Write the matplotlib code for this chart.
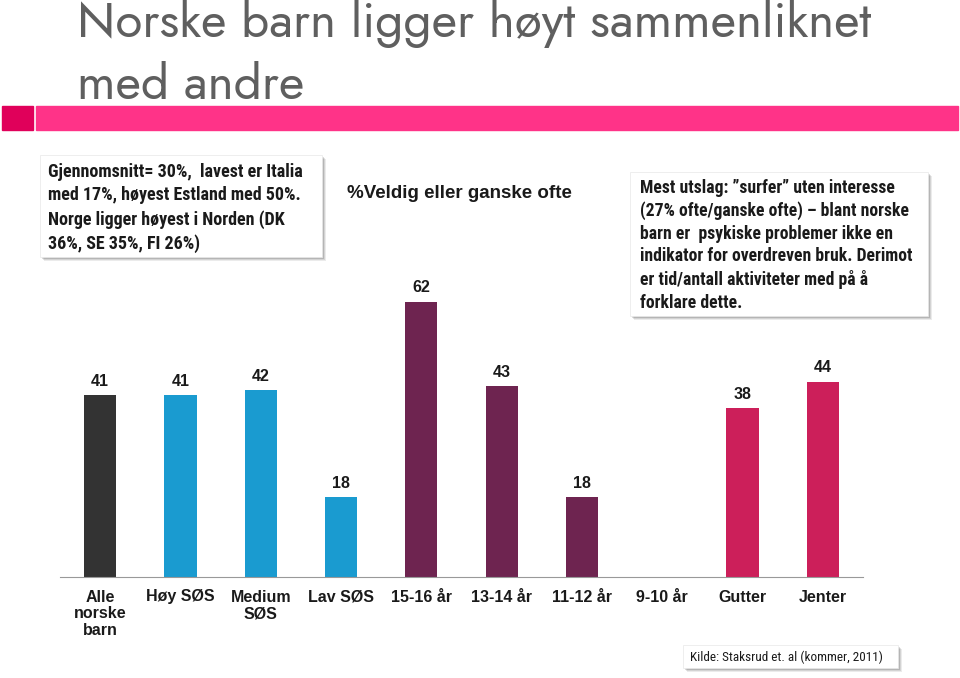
import matplotlib.pyplot as plt
from matplotlib.patches import Rectangle

categories = ['Alle\nnorske\nbarn', 'Høy SØS', 'Medium\nSØS', 'Lav SØS', '15-16 år',
              '13-14 år', '11-12 år', '9-10 år', 'Gutter', 'Jenter']
values = [41, 41, 42, 18, 62, 43, 18, None, 38, 44]
colors = ['#333333', '#1a9bd0', '#1a9bd0', '#1a9bd0', '#6e2450',
          '#6e2450', '#6e2450', '#6e2450', '#cc1f5a', '#cc1f5a']

title = 'Norske barn ligger høyt sammenliknet\nmed andre'
note_left = ('Gjennomsnitt= 30%,  lavest er Italia\nmed 17%, høyest Estland med 50%.\n'
             'Norge ligger høyest i Norden (DK\n36%, SE 35%, FI 26%)')
note_mid = '%Veldig eller ganske ofte'
note_right = ('Mest utslag: ”surfer” uten interesse\n(27% ofte/ganske ofte) – blant norske\n'
              'barn er  psykiske problemer ikke en\nindikator for overdreven bruk. Derimot\n'
              'er tid/antall aktiviteter med på å\nforklare dette.')
source = 'Kilde: Staksrud et. al (kommer, 2011)'

W, H = 960, 678
fig = plt.figure(figsize=(9.6, 6.78), dpi=100)
narrow = ['Roboto Condensed', 'DejaVu Sans']


def fx(x):
    return x / W


def fy(y):
    return 1 - y / H


# title and pink band
fig.text(fx(77), fy(-1), title, ha='left', va='top', fontsize=35.5, color='#5f5f5f',
         family=['Jost', 'DejaVu Sans'], linespacing=1.33)
fig.patches.append(Rectangle((fx(2), fy(130)), fx(31), 24 / H, color='#e0005a',
                             transform=fig.transFigure))
fig.patches.append(Rectangle((fx(36), fy(130)), fx(922), 24 / H, color='#ff3388',
                             transform=fig.transFigure))


def box(x0, y0, x1, y1):
    for d, a in [(4, 0.08), (3, 0.1), (2, 0.14)]:
        fig.patches.append(Rectangle((fx(x0 + d), fy(y1 + d)), fx(x1 - x0), (y1 - y0) / H,
                                     color='black', alpha=a, transform=fig.transFigure, lw=0))
    fig.patches.append(Rectangle((fx(x0), fy(y1)), fx(x1 - x0), (y1 - y0) / H,
                                 facecolor='white', edgecolor='#e8e8e8', lw=0.5,
                                 transform=fig.transFigure))


box(40, 155, 322, 257)
fig.text(fx(48), fy(163), note_left, ha='left', va='top', fontsize=13, family=narrow,
         weight='bold', color='#1a1a1a', linespacing=1.39)

fig.text(fx(347), fy(193), note_mid, ha='left', va='center', fontsize=13.5,
         family='Liberation Sans', weight='bold', color='#1a1a1a')

box(630, 172, 928, 316)
fig.text(fx(640), fy(179), note_right, ha='left', va='top', fontsize=12.7, family=narrow,
         weight='bold', color='#1a1a1a', linespacing=1.32)

box(683, 645, 898, 668)
fig.text(fx(690), fy(657), source, ha='left', va='center', fontsize=9.5, family=narrow,
         color='#1a1a1a')

# bar chart
ax = fig.add_axes([fx(60), fy(577), fx(803), 311 / H])
x = list(range(len(categories)))
for i, v in enumerate(values):
    if v is None:
        continue
    ax.bar(i, v, width=0.4, color=colors[i])
    ax.text(i, v + 1.4, str(v), ha='center', va='bottom', fontsize=11.5,
            family='Liberation Sans', weight='bold', color='#1a1a1a')
ax.set_xlim(-0.5, len(categories) - 0.5)
ax.set_ylim(0, 70)
ax.set_xticks(x)
ax.set_xticklabels(categories, fontsize=11.5, family='Liberation Sans', weight='bold',
                   color='#1a1a1a', linespacing=1.15)
ax.tick_params(axis='x', length=0, pad=9)
ax.set_yticks([])
for s in ['top', 'right', 'left']:
    ax.spines[s].set_visible(False)
ax.spines['bottom'].set_color('#999999')
ax.patch.set_alpha(0)

fig.savefig('out.png', dpi=100)
